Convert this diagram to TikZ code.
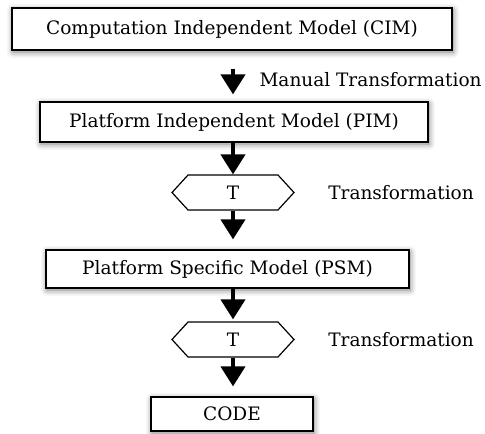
\documentclass[tikz,border=0pt]{standalone}
\usepackage{fontspec}
\setmainfont{DejaVu Serif}
\usetikzlibrary{arrows.meta,shapes.symbols,shadows.blur}

\tikzset{
  model/.style={draw, line width=1.2pt, fill=white, inner sep=0pt,
    blur shadow={shadow xshift=1pt, shadow yshift=-2pt, shadow blur radius=6pt, shadow opacity=55},
    font=\fontsize{18.5}{22}\selectfont},
  transbox/.style={draw, line width=1.2pt, fill=white, signal, signal to=west and east,
    signal pointer angle=95, minimum width=122pt, minimum height=35pt, inner sep=0pt,
    font=\fontsize{18.5}{22}\selectfont},
  flow/.style={-{Triangle[width=24pt,length=20pt]}, line width=4pt},
  note/.style={anchor=west, font=\fontsize{18.5}{22}\selectfont},
}

\begin{document}
\begin{tikzpicture}[x=1pt,y=-1pt]
            \useasboundingbox (0,0) rectangle (485,434);

            \node[model, minimum width=440pt, minimum height=42pt] (cim) at (232,29) {Computation Independent Model (CIM)};
            \node[model, minimum width=388pt, minimum height=40pt] (pim) at (234,122) {Platform Independent Model (PIM)};
            \node[transbox] (tA) at (233,192.5) {T};
            \node[model, minimum width=363pt, minimum height=38pt] (psm) at (227.5,269) {Platform Specific Model (PSM)};
            \node[transbox] (tB) at (233,339.5) {T};
            \node[model, minimum width=162pt, minimum height=34pt] (code) at (232,414) {CODE};

            \draw[flow, shorten <=18pt, shorten >=7pt] (cim.south -| tA) -- (pim.north -| tA);
            \draw[flow] (pim.south -| tA) -- (tA.north);
            \draw[flow, shorten >=10pt] (tA.south) -- (psm.north -| tA);
            \draw[flow, shorten >=2pt] (psm.south -| tB) -- (tB.north);
            \draw[flow, shorten >=10pt] (tB.south) -- (code.north -| tB);

            \node[note] (manual) at (256,80) {Manual Transformation};
            \node[note] (labA) at ([xshift=30pt]tA.east) {Transformation};
            \node[note] (labB) at ([xshift=30pt]tB.east) {Transformation};
        \end{tikzpicture}
\end{document}
